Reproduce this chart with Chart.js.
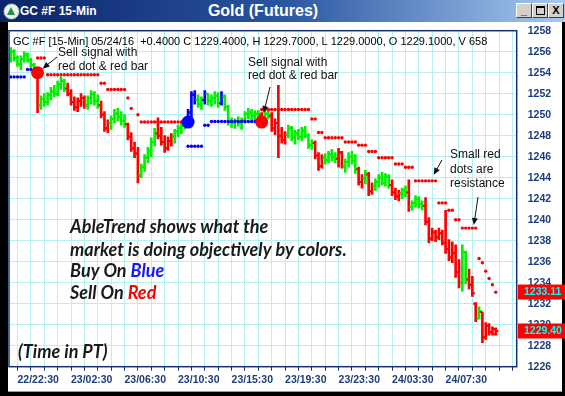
<!DOCTYPE html>
<html>
<head>
<meta charset="utf-8">
<script src="https://cdn.jsdelivr.net/npm/chart.js@4.4.1/dist/chart.umd.min.js"></script>
<style>
  html, body { margin: 0; padding: 0; width: 565px; height: 396px; overflow: hidden; background: #000; font-family: "Liberation Sans", Arial, sans-serif; }
  #content { position: absolute; left: 8px; top: 22px; width: 554px; height: 369px; background: #fff; border-bottom: 1px solid #9a9a9a; }
  #title { position: absolute; left: 0; top: 0; width: 565px; height: 22px; background: linear-gradient(to right, #0a246a 0%, #2a55a0 50%, #a6caf0 100%); color: #fff; }
  #icon { position: absolute; left: 3px; top: 3px; width: 15px; height: 15px; border-radius: 50%; background: #e8f2ea; border: 1px solid #2c5a40; }
  #tri { position: absolute; left: 3px; top: 3px; width: 0; height: 0; border-left: 4.5px solid transparent; border-right: 4.5px solid transparent; border-bottom: 8px solid #2f8a4e; }
  #t1 { position: absolute; left: 20px; top: 0; line-height: 22px; font-weight: bold; font-size: 12px; }
  #t2 { position: absolute; left: 183px; width: 160px; top: 0; line-height: 22px; font-weight: bold; font-size: 16px; text-align: center; }
  .btn { position: absolute; top: 3px; width: 14px; height: 13px; background: #d4d0c8; border-top: 1px solid #fff; border-left: 1px solid #fff; border-right: 1px solid #404040; border-bottom: 1px solid #404040; color: #000; font-weight: bold; font-size: 11px; text-align: center; line-height: 13px; }
  #b2 span { display: inline-block; width: 7px; height: 6px; border: 1px solid #000; border-top-width: 2px; margin-top: 2px; }
  canvas { position: absolute; left: 0; top: 0; }
</style>
</head>
<body>
<div id="content"></div>
<div id="title">
  <div id="icon"><div id="tri"></div></div>
  <span id="t1">GC #F 15-Min</span>
  <span id="t2">Gold (Futures)</span>
  <div class="btn" style="left:516px">_</div>
  <div class="btn" id="b2" style="left:532px"><span></span></div>
  <div class="btn" style="left:548px">X</div>
</div>
<canvas id="chart" width="565" height="396"></canvas>
<script>
// 15-min bars, index 0 .. 145
const opens = [
  1255.3, 1256.0, 1255.4, 1254.8, 1255.3, 1255.7, 1255.2, 1254.7, 1254.0, 1250.9,
  1251.5, 1251.2, 1251.9, 1252.2, 1252.0, 1252.9, 1253.2, 1252.5, 1252.0, 1251.2,
  1250.7, 1251.3, 1251.6, 1250.9, 1251.6, 1252.0, 1251.3, 1250.9, 1250.0, 1248.7,
  1249.2, 1249.6, 1250.1, 1249.8, 1249.4, 1249.1, 1247.9, 1246.8, 1246.3, 1244.2,
  1245.0, 1245.9, 1246.6, 1247.4, 1248.2, 1248.0, 1247.4, 1246.8, 1247.5, 1247.9,
  1248.4, 1248.7, 1249.0, 1249.3, 1250.2, 1251.9, 1251.4, 1251.0, 1251.4, 1252.0,
  1251.3, 1251.6, 1251.8, 1251.1, 1251.7, 1250.7, 1249.3, 1249.2, 1249.4, 1249.2,
  1249.5, 1250.1, 1250.2, 1249.9, 1250.1, 1250.0, 1249.6, 1250.1, 1249.9, 1248.7,
  1249.2, 1248.0, 1247.6, 1248.1, 1248.7, 1247.8, 1248.2, 1247.9, 1248.5, 1248.0,
  1247.1, 1247.3, 1246.1, 1245.1, 1245.9, 1245.7, 1246.2, 1246.0, 1245.8, 1246.4,
  1245.1, 1245.5, 1246.0, 1245.6, 1244.8, 1243.6, 1243.9, 1244.3, 1242.7, 1243.2,
  1243.6, 1244.0, 1243.5, 1244.1, 1243.3, 1242.6, 1242.2, 1242.5, 1242.8, 1242.6,
  1241.2, 1241.6, 1242.0, 1241.5, 1241.3, 1239.8, 1238.2, 1238.8, 1238.3, 1238.7,
  1237.8, 1237.2, 1236.4, 1236.8, 1235.0, 1234.0, 1236.9, 1234.3, 1233.8, 1232.0,
  1230.6, 1231.2, 1228.8, 1229.9, 1229.3, 1229.1
];
const highs = [
  1256.4, 1256.2, 1255.6, 1255.6, 1256.0, 1255.9, 1255.4, 1254.9, 1254.3, 1251.8,
  1252.0, 1252.1, 1252.6, 1252.8, 1253.2, 1253.6, 1253.4, 1253.0, 1252.4, 1251.7,
  1251.6, 1252.0, 1251.8, 1251.8, 1252.3, 1252.2, 1251.9, 1251.3, 1250.3, 1249.5,
  1249.9, 1250.5, 1250.6, 1250.3, 1250.0, 1249.2, 1248.3, 1247.4, 1246.9, 1245.3,
  1246.2, 1246.9, 1247.8, 1248.7, 1249.7, 1248.8, 1248.0, 1247.9, 1248.2, 1248.6,
  1249.0, 1249.3, 1249.5, 1250.5, 1252.2, 1252.3, 1251.9, 1251.7, 1252.3, 1252.0,
  1251.9, 1252.2, 1252.1, 1252.2, 1251.9, 1250.9, 1249.7, 1249.6, 1249.8, 1249.7,
  1250.3, 1250.6, 1250.5, 1250.4, 1250.4, 1250.2, 1250.4, 1250.5, 1250.2, 1249.6,
  1252.8, 1248.8, 1248.4, 1249.0, 1248.9, 1248.5, 1248.6, 1248.8, 1248.9, 1248.2,
  1247.6, 1247.5, 1246.4, 1246.2, 1246.3, 1246.5, 1246.7, 1246.4, 1246.8, 1246.5,
  1245.8, 1246.4, 1246.5, 1246.2, 1245.0, 1244.3, 1244.7, 1244.5, 1243.5, 1243.9,
  1244.3, 1244.5, 1244.4, 1244.3, 1243.8, 1243.0, 1242.8, 1243.0, 1243.2, 1243.8,
  1241.8, 1242.3, 1242.2, 1241.8, 1242.1, 1240.2, 1239.2, 1239.0, 1239.2, 1239.0,
  1240.9, 1238.1, 1237.9, 1237.6, 1236.2, 1237.6, 1237.0, 1235.3, 1234.6, 1232.1,
  1231.7, 1231.2, 1230.2, 1230.1, 1229.8, 1229.7
];
const lows = [
  1255.0, 1255.1, 1254.6, 1254.3, 1255.0, 1255.0, 1254.5, 1253.9, 1250.2, 1250.5,
  1250.8, 1250.9, 1251.4, 1251.7, 1251.8, 1252.4, 1252.2, 1251.8, 1250.9, 1250.4,
  1250.3, 1250.8, 1250.6, 1250.5, 1251.0, 1250.9, 1250.6, 1249.7, 1248.4, 1248.3,
  1248.6, 1249.2, 1249.4, 1249.0, 1248.8, 1247.6, 1246.5, 1245.9, 1243.5, 1244.0,
  1244.6, 1245.4, 1246.0, 1247.0, 1247.7, 1247.1, 1246.4, 1246.6, 1247.0, 1247.3,
  1247.9, 1248.2, 1248.6, 1249.2, 1249.6, 1251.0, 1250.7, 1250.5, 1251.0, 1250.9,
  1250.8, 1251.0, 1250.7, 1250.9, 1250.4, 1249.0, 1248.8, 1248.7, 1248.9, 1248.6,
  1249.2, 1249.6, 1249.5, 1249.4, 1249.5, 1249.0, 1249.4, 1249.6, 1248.4, 1248.1,
  1245.9, 1247.3, 1247.2, 1247.8, 1247.5, 1247.2, 1247.6, 1247.5, 1247.8, 1246.8,
  1246.7, 1245.8, 1244.7, 1244.9, 1245.3, 1245.4, 1245.6, 1245.4, 1245.0, 1244.9,
  1244.5, 1245.0, 1245.3, 1244.4, 1243.3, 1243.0, 1243.4, 1242.3, 1242.4, 1242.8,
  1243.1, 1243.3, 1243.2, 1243.0, 1242.3, 1241.9, 1241.8, 1242.0, 1242.2, 1240.8,
  1240.9, 1241.2, 1241.1, 1240.9, 1239.5, 1237.8, 1238.0, 1237.9, 1238.1, 1237.6,
  1236.8, 1236.1, 1235.9, 1234.5, 1233.5, 1233.2, 1233.9, 1233.4, 1232.7, 1230.3,
  1230.6, 1228.3, 1228.6, 1229.0, 1229.0, 1229.0
];
const closes = [
  1256.0, 1255.4, 1254.8, 1255.3, 1255.7, 1255.2, 1254.7, 1254.1, 1250.9, 1251.5,
  1251.2, 1251.9, 1252.2, 1252.0, 1252.9, 1253.2, 1252.5, 1252.0, 1251.2, 1250.7,
  1251.3, 1251.6, 1250.9, 1251.6, 1252.0, 1251.3, 1250.9, 1250.0, 1248.7, 1249.2,
  1249.6, 1250.1, 1249.8, 1249.4, 1249.1, 1247.9, 1246.8, 1246.3, 1244.2, 1245.0,
  1245.9, 1246.6, 1247.4, 1248.2, 1248.0, 1247.4, 1246.8, 1247.5, 1247.9, 1248.4,
  1248.7, 1249.0, 1249.3, 1250.2, 1251.9, 1251.4, 1251.0, 1251.4, 1252.0, 1251.3,
  1251.6, 1251.8, 1251.1, 1251.7, 1250.7, 1249.3, 1249.2, 1249.4, 1249.2, 1249.5,
  1250.1, 1250.2, 1249.9, 1250.1, 1250.0, 1249.6, 1250.1, 1249.9, 1248.7, 1249.2,
  1248.0, 1247.6, 1248.1, 1248.7, 1247.8, 1248.2, 1247.9, 1248.5, 1248.0, 1247.1,
  1247.3, 1246.1, 1245.1, 1245.9, 1245.7, 1246.2, 1246.0, 1245.8, 1246.4, 1245.1,
  1245.5, 1246.0, 1245.6, 1244.8, 1243.6, 1243.9, 1244.3, 1242.7, 1243.2, 1243.6,
  1244.0, 1243.5, 1244.1, 1243.3, 1242.6, 1242.2, 1242.5, 1242.8, 1242.6, 1241.2,
  1241.6, 1242.0, 1241.5, 1241.3, 1239.8, 1238.2, 1238.8, 1238.3, 1238.7, 1237.8,
  1237.2, 1236.4, 1236.8, 1235.0, 1234.0, 1236.9, 1234.3, 1233.8, 1233.0, 1230.6,
  1231.3, 1228.8, 1229.9, 1229.3, 1229.6, 1229.4
];
// bar colour by AbleTrend state: g = green, r = red, b = blue
const barTrend = (
  'gggggggg' + 'r' + 'gggggggg' + 'rrrrrr' + 'gggg' + 'rrr' + 'ggggg' + 'rrrr' + 'ggggg' + 'rrrrr' +
  'gggg' + 'bbb' + 'gg' + 'b' + 'gggg' + 'b' + 'ggggggggggg' + 'r' + 'gg' + 'rrrrr' + 'gggggggg' +
  'rrr' + 'gggg' + 'rr' + 'gggg' + 'rr' + 'g' + 'rr' + 'ggggg' + 'rrr' + 'gg' + 'r' + 'gggg' +
  'rrrrrrrrrrr' + 'gg' + 'rrr' + 'g' + 'rrrrr'
).split('');

const _ = null;
// small red dots (resistance)
const redDots = [
  _, _, _, _, _, _, _, _, 1255.4, 1255.4,
  1255.4, 1253.8, 1253.8, 1253.8, 1253.8, 1253.8, 1253.8, 1253.8, 1253.8, 1253.8,
  1253.8, 1253.8, 1253.8, 1253.8, 1253.8, 1253.8, 1253.8, 1253.0, 1253.0, 1252.4,
  1252.4, 1252.4, 1252.4, 1252.4, 1252.4, 1251.6, 1250.6, _, 1250.0, 1249.3,
  1249.3, 1249.3, 1249.3, 1249.3, 1249.3, 1249.3, 1249.3, 1249.3, 1249.3, 1249.3,
  1249.3, 1249.3, _, _, _, _, _, _, _, _,
  _, _, _, _, _, _, _, _, _, _,
  _, _, _, _, _, 1250.5, 1250.5, 1250.5, 1250.5, 1250.5,
  1250.5, 1250.5, 1250.5, 1250.5, 1250.5, 1250.5, 1250.5, 1250.5, 1250.5, 1250.5,
  1249.6, 1249.6, 1248.3, 1248.3, 1247.8, 1247.8, 1247.8, 1247.8, 1247.8, 1247.8,
  1247.4, 1247.4, 1247.4, 1247.4, 1247.1, 1247.1, 1247.1, 1246.5, 1246.5, 1246.5,
  1245.9, 1245.9, 1245.9, 1245.9, 1245.9, 1245.3, 1245.3, 1245.3, 1245.0, 1245.0,
  1245.0, 1243.7, 1243.7, 1243.7, 1243.7, 1243.7, 1243.7, 1243.7, 1241.6, 1241.6,
  1241.6, 1240.9, 1240.9, 1240.0, 1240.0, 1239.2, 1239.2, 1239.2, 1239.2, 1239.2,
  1236.3, 1235.9, 1235.1, 1234.4, 1233.8, 1233.1
];
// small blue dots (support)
const blueDots = [
  1253.6, 1253.6, 1253.6, 1253.6, 1253.6, 1254.3, 1254.3, _, _, _,
  _, _, _, _, _, _, _, _, _, _,
  _, _, _, _, _, _, _, _, _, _,
  _, _, _, _, _, _, _, _, _, _,
  _, _, _, _, _, _, _, _, _, _,
  _, _, _, 1247.0, 1247.0, 1247.0, 1247.0, 1247.0, 1249.0, 1249.0,
  1249.35, 1249.35, 1249.35, 1249.35, 1249.35, 1249.35, 1249.35, 1249.35, 1249.35, 1249.35,
  1249.35, 1249.35, 1249.35, 1249.35, 1249.35
];
// signal dots
const sellIdx = [8, 75];
const sellLevel = [1254.0, 1249.3];
const buyIdx = [53];
const buyLevel = [1249.3];

// right-hand price tags
const stopTag = 1233.11;
const lastTag = 1229.40;

const xTickLabels = ['22/22:30', '23/02:30', '23/06:30', '23/10:30', '23/15:30', '23/19:30', '23/23:30', '24/03:30', '24/07:30'];
const xLabelIdx = [2, 18, 34, 50, 66, 82, 98, 114, 130];

const headerText = 'GC #F [15-Min] 05/24/16  +0.4000 C 1229.4000, H 1229.7000, L 1229.0000, O 1229.1000, V 658';

const trendColor = { g: '#00f000', r: '#ff0000', b: '#0000ff' };
const axisBlue = '#1c3c7c';
const FONT = '"Liberation Sans", Arial, sans-serif';

const toPoints = arr => arr.flatMap((v, i) => v == null ? [] : [{ x: i, y: v }]);

function arrow(ctx, x1, y1, x2, y2) {
  const a = Math.atan2(y2 - y1, x2 - x1);
  ctx.beginPath();
  ctx.moveTo(x1, y1);
  ctx.lineTo(x2 - 4 * Math.cos(a), y2 - 4 * Math.sin(a));
  ctx.stroke();
  ctx.beginPath();
  ctx.moveTo(x2, y2);
  ctx.lineTo(x2 - 7 * Math.cos(a) + 3 * Math.sin(a), y2 - 7 * Math.sin(a) - 3 * Math.cos(a));
  ctx.lineTo(x2 - 7 * Math.cos(a) - 3 * Math.sin(a), y2 - 7 * Math.sin(a) + 3 * Math.cos(a));
  ctx.closePath();
  ctx.fill();
}

const overlay = {
  id: 'overlay',
  afterDatasetDraw(chart, args) {
    if (args.index !== 0) return;
    // open / close ticks of the OHLC bars
    const { ctx, scales: { x, y } } = chart;
    ctx.save();
    ctx.lineWidth = 2;
    for (let i = 0; i < opens.length; i++) {
      const px = x.getPixelForValue(i);
      const yo = y.getPixelForValue(opens[i]);
      const yc = y.getPixelForValue(closes[i]);
      ctx.strokeStyle = trendColor[barTrend[i]];
      ctx.beginPath();
      ctx.moveTo(px - 2.6, yo); ctx.lineTo(px, yo);
      ctx.moveTo(px, yc); ctx.lineTo(px + 2.6, yc);
      ctx.stroke();
    }
    ctx.restore();
  },
  afterDraw(chart) {
    const { ctx, chartArea: ca, scales: { x, y } } = chart;
    ctx.save();
    // plot frame
    ctx.strokeStyle = '#14306e';
    ctx.lineWidth = 1.5;
    ctx.strokeRect(ca.left, ca.top, ca.right - ca.left, ca.bottom - ca.top);

    // header line
    ctx.fillStyle = '#000';
    ctx.textBaseline = 'middle';
    ctx.font = '11px ' + FONT;
    ctx.fillText(headerText, 13, 42);

    // notes
    ctx.fillStyle = '#111';
    ctx.font = '12px ' + FONT;
    ctx.fillText('Sell signal with', 58, 53);
    ctx.fillText('red dot & red bar', 58, 66.5);
    ctx.fillText('Sell signal with', 248, 62.5);
    ctx.fillText('red dot & red bar', 248, 76);
    ctx.fillText('Small red', 450, 155);
    ctx.fillText('dots are', 450, 169.3);
    ctx.fillText('resistance', 450, 183.5);

    ctx.strokeStyle = '#111';
    ctx.lineWidth = 1;
    arrow(ctx, 57, 57, x.getPixelForValue(sellIdx[0]) + 5, y.getPixelForValue(sellLevel[0]) - 4);
    arrow(ctx, 270, 87, x.getPixelForValue(sellIdx[1]) + 2, y.getPixelForValue(sellLevel[1]) - 9);
    arrow(ctx, 442, 160, x.getPixelForValue(126) + 1.5, y.getPixelForValue(redDots[126]) - 6);
    arrow(ctx, 478, 197, x.getPixelForValue(138) + 1.5, y.getPixelForValue(redDots[138]) - 3);

    // big italic text
    ctx.font = 'italic bold 18px Lato, "Open Sans", sans-serif';
    ctx.fillStyle = '#1a1a1a';
    ctx.fillText('AbleTrend shows what the', 70, 227);
    ctx.fillText('market is doing objectively by colors.', 70, 250);
    ctx.fillText('Buy On ', 70, 271.5);
    let w = ctx.measureText('Buy On ').width;
    ctx.fillStyle = '#1414ff';
    ctx.fillText('Blue', 70 + w, 271.5);
    ctx.fillStyle = '#1a1a1a';
    ctx.fillText('Sell On ', 70, 293);
    w = ctx.measureText('Sell On ').width;
    ctx.fillStyle = '#ff0000';
    ctx.fillText('Red', 70 + w, 293);
    ctx.fillStyle = '#1a1a1a';
    ctx.fillText('(Time in PT)', 18, 352);

    // price tags on the right axis
    ctx.font = 'bold 10.5px ' + FONT;
    [stopTag, lastTag].forEach(v => {
      const py = y.getPixelForValue(v);
      ctx.fillStyle = '#ff0000';
      ctx.fillRect(518, py - 7.5, 47, 15);
      ctx.fillStyle = '#00ffff';
      ctx.fillText(v.toFixed(2), 524, py + 0.5);
    });
    ctx.restore();
  }
};

const xTickValues = [];
for (let v = 2; v <= 150; v += 4) xTickValues.push(v);

new Chart(document.getElementById('chart'), {
  type: 'bar',
  data: {
    datasets: [
      {
        type: 'bar',
        data: opens.map((o, i) => ({ x: i, y: [lows[i], highs[i]] })),
        backgroundColor: barTrend.map(t => trendColor[t]),
        borderWidth: 0,
        barThickness: 2,
        grouped: false,
        order: 3
      },
      {
        type: 'scatter',
        data: toPoints(redDots),
        pointRadius: 1.7,
        pointBackgroundColor: '#ff0000',
        pointBorderWidth: 0,
        order: 2
      },
      {
        type: 'scatter',
        data: toPoints(blueDots),
        pointRadius: 1.7,
        pointBackgroundColor: '#0000ff',
        pointBorderWidth: 0,
        order: 2
      },
      {
        type: 'scatter',
        data: sellIdx.map((v, k) => ({ x: v, y: sellLevel[k] })),
        pointRadius: 6.5,
        pointBackgroundColor: '#ff0000',
        pointBorderWidth: 0,
        order: 1
      },
      {
        type: 'scatter',
        data: buyIdx.map((v, k) => ({ x: v, y: buyLevel[k] })),
        pointRadius: 6.5,
        pointBackgroundColor: '#0000ff',
        pointBorderWidth: 0,
        order: 1
      }
    ]
  },
  options: {
    responsive: false,
    animation: false,
    layout: { padding: { left: 9, top: 30.7, right: 0, bottom: 0 } },
    plugins: { legend: { display: false }, tooltip: { enabled: false } },
    scales: {
      x: {
        type: 'linear',
        min: -0.54,
        max: 151.26,
        offset: false,
        afterBuildTicks: s => { s.ticks = xTickValues.map(v => ({ value: v })); },
        afterFit: s => { s.height = 29.3; },
        grid: { color: '#b4f2f2', offset: false, drawTicks: true, tickLength: 4, tickColor: '#14306e' },
        border: { display: false },
        ticks: {
          autoSkip: false,
          maxRotation: 0,
          align: 'start',
          padding: 3,
          color: axisBlue,
          font: { family: FONT, size: 10.5, weight: 'bold' },
          callback: v => { const k = xLabelIdx.indexOf(v); return k >= 0 ? xTickLabels[k] : ''; }
        }
      },
      y: {
        type: 'linear',
        position: 'right',
        min: 1226,
        max: 1258,
        afterFit: s => { s.width = 48.3; },
        grid: { color: '#b4f2f2', drawTicks: false },
        border: { display: false },
        ticks: {
          stepSize: 2,
          padding: 11,
          color: axisBlue,
          font: { family: FONT, size: 10.5, weight: 'bold' },
          callback: v => String(v)
        }
      }
    }
  },
  plugins: [overlay]
});
</script>
</body>
</html>
